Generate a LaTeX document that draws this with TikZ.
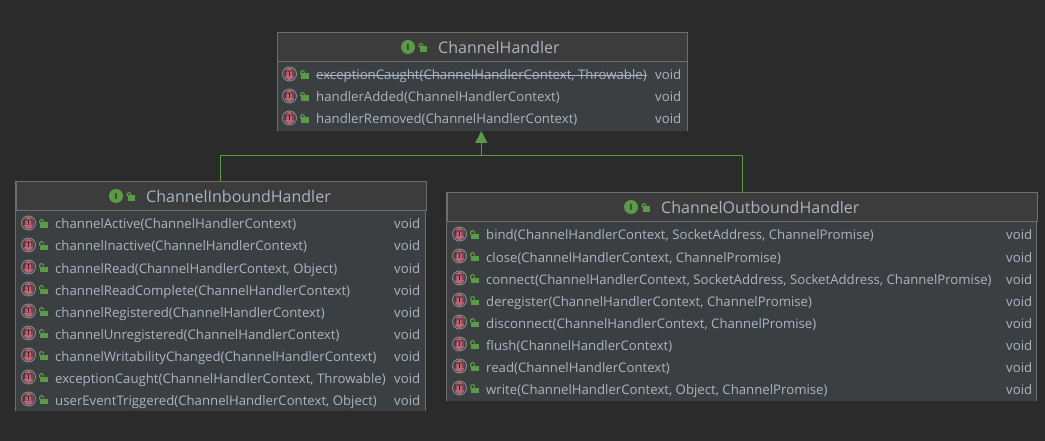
\documentclass[tikz,border=0pt]{standalone}
\usepackage{fontspec}
\setmainfont{Open Sans}
\usetikzlibrary{arrows.meta}
\definecolor{canvasbg}{HTML}{2B2B2B}
\definecolor{headbg}{HTML}{3C3C3C}
\definecolor{rowbg}{HTML}{3C3F41}
\definecolor{boxline}{HTML}{6E6E6E}
\definecolor{labeltext}{HTML}{A9B5C4}
\definecolor{linkgreen}{HTML}{5B9A46}
\definecolor{methodpink}{HTML}{BC6476}
\tikzset{
    umlbox/.style={fill=rowbg, anchor=north west, inner sep=0pt},
    headrow/.style={draw=boxline, line width=1pt, fill=headbg, anchor=north west, inner sep=0pt},
    boxedge/.style={draw=boxline, line width=1pt},
    headtext/.style={text=labeltext, font=\fontsize{16}{18}\selectfont, anchor=west, inner sep=0pt, text height=16pt, text depth=2pt},
    rowtext/.style={text=labeltext, font=\fontsize{13.2}{15}\selectfont, anchor=west, inner sep=0pt, text height=14pt, text depth=2pt},
    implements/.style={draw=linkgreen, line width=1pt},
    openlock/.pic={
        \fill[linkgreen] (0,0) rectangle (7.5,5.5);
        \draw[linkgreen, line width=1.1pt, rounded corners=1.5pt] (-0.3,1) -- (-0.3,-3) -- (3.4,-3) -- (3.4,0);
    },
    methodicon/.pic={
        \draw[boxline!80!white, line width=0.9pt, fill=rowbg] (0,0) circle (7);
        \fill[methodpink] (0,0) ellipse (4.8 and 6.3);
        \node[text=black!80!methodpink, font=\fontsize{10.5}{11}\selectfont, inner sep=0pt] at (0,-0.5) {m};
        \path (11.5,-0.5) pic {openlock};
    },
    classicon/.pic={
        \fill[linkgreen] (0,0) circle (7);
        \node[text=canvasbg, font=\bfseries\fontsize{8.5}{9}\selectfont, inner sep=0pt] at (0,0) {I};
        \path (11.5,-0.5) pic {openlock};
    },
}
\begin{document}
\begin{tikzpicture}[x=1pt, y=-1pt]
    \fill[canvasbg] (0,0) rectangle (1045,441);
    \useasboundingbox (0,0) rectangle (1045,441);

    % top interface
    \node[umlbox, minimum width=410pt, minimum height=98pt] (handler) at (277,32.5) {};
    \draw[boxedge] (handler.south west) -- (handler.north west) -- (handler.north east) -- (handler.south east);
    \node[headrow, minimum width=410pt, minimum height=29pt] (handlerhead) at (277,32.5) {};
    \node[headtext] (handlertitle) at (438,47) {ChannelHandler};
    \path (408,47) pic {classicon};
    \foreach \i/\y/\txt in {1/74/{exceptionCaught(ChannelHandlerContext, Throwable)},
                            2/96/{handlerAdded(ChannelHandlerContext)},
                            3/118/{handlerRemoved(ChannelHandlerContext)}} {
        \path (289.5,\y) pic {methodicon};
        \node[rowtext] (handler\i) at (316,\y) {\txt};
        \node[rowtext] (handlervoid\i) at (655,\y) {void};
    }
    \draw[labeltext, line width=0.8pt] ([yshift=-1pt]handler1.west) -- ([yshift=-1pt]handler1.east);

    % inbound
    \node[umlbox, minimum width=410pt, minimum height=229.5pt] (inbound) at (15.5,181.5) {};
    \draw[boxedge] (inbound.south west) -- (inbound.north west) -- (inbound.north east) -- (inbound.south east);
    \node[headrow, minimum width=410pt, minimum height=29pt] (inboundhead) at (15.5,181.5) {};
    \node[headtext] (inboundtitle) at (146,196) {ChannelInboundHandler};
    \path (116,196) pic {classicon};
    \foreach \i/\y/\txt in {1/223/{channelActive(ChannelHandlerContext)},
                            2/245/{channelInactive(ChannelHandlerContext)},
                            3/267/{channelRead(ChannelHandlerContext, Object)},
                            4/289/{channelReadComplete(ChannelHandlerContext)},
                            5/311/{channelRegistered(ChannelHandlerContext)},
                            6/333/{channelUnregistered(ChannelHandlerContext)},
                            7/355/{channelWritabilityChanged(ChannelHandlerContext)},
                            8/377/{exceptionCaught(ChannelHandlerContext, Throwable)},
                            9/399/{userEventTriggered(ChannelHandlerContext, Object)}} {
        \path (28.5,\y) pic {methodicon};
        \node[rowtext] (inbound\i) at (55,\y) {\txt};
        \node[rowtext] (inboundvoid\i) at (394,\y) {void};
    }

    % outbound
    \node[umlbox, minimum width=590pt, minimum height=208pt] (outbound) at (446.5,192.5) {};
    \draw[boxedge] (outbound.south west) -- (outbound.north west) -- (outbound.north east) -- (outbound.south east);
    \node[headrow, minimum width=590pt, minimum height=29pt] (outboundhead) at (446.5,192.5) {};
    \node[headtext] (outboundtitle) at (661,207) {ChannelOutboundHandler};
    \path (631,207) pic {classicon};
    \foreach \i/\y/\txt in {1/234/{bind(ChannelHandlerContext, SocketAddress, ChannelPromise)},
                            2/256/{close(ChannelHandlerContext, ChannelPromise)},
                            3/278/{connect(ChannelHandlerContext, SocketAddress, SocketAddress, ChannelPromise)},
                            4/300/{deregister(ChannelHandlerContext, ChannelPromise)},
                            5/322/{disconnect(ChannelHandlerContext, ChannelPromise)},
                            6/344/{flush(ChannelHandlerContext)},
                            7/366/{read(ChannelHandlerContext)},
                            8/388/{write(ChannelHandlerContext, Object, ChannelPromise)}} {
        \path (459.5,\y) pic {methodicon};
        \node[rowtext] (outbound\i) at (486,\y) {\txt};
        \node[rowtext] (outboundvoid\i) at (1006,\y) {void};
    }

    % links
    \coordinate (junction) at (481.3,155.3);
    \draw[implements] (inbound.north) |- (junction);
    \draw[implements] ([xshift=0.8pt]outbound.north) |- (junction);
    \draw[implements, -{Triangle[length=12pt, width=12pt, fill=linkgreen]}] (junction) -- (handler.south -| junction);
\end{tikzpicture}
\end{document}
